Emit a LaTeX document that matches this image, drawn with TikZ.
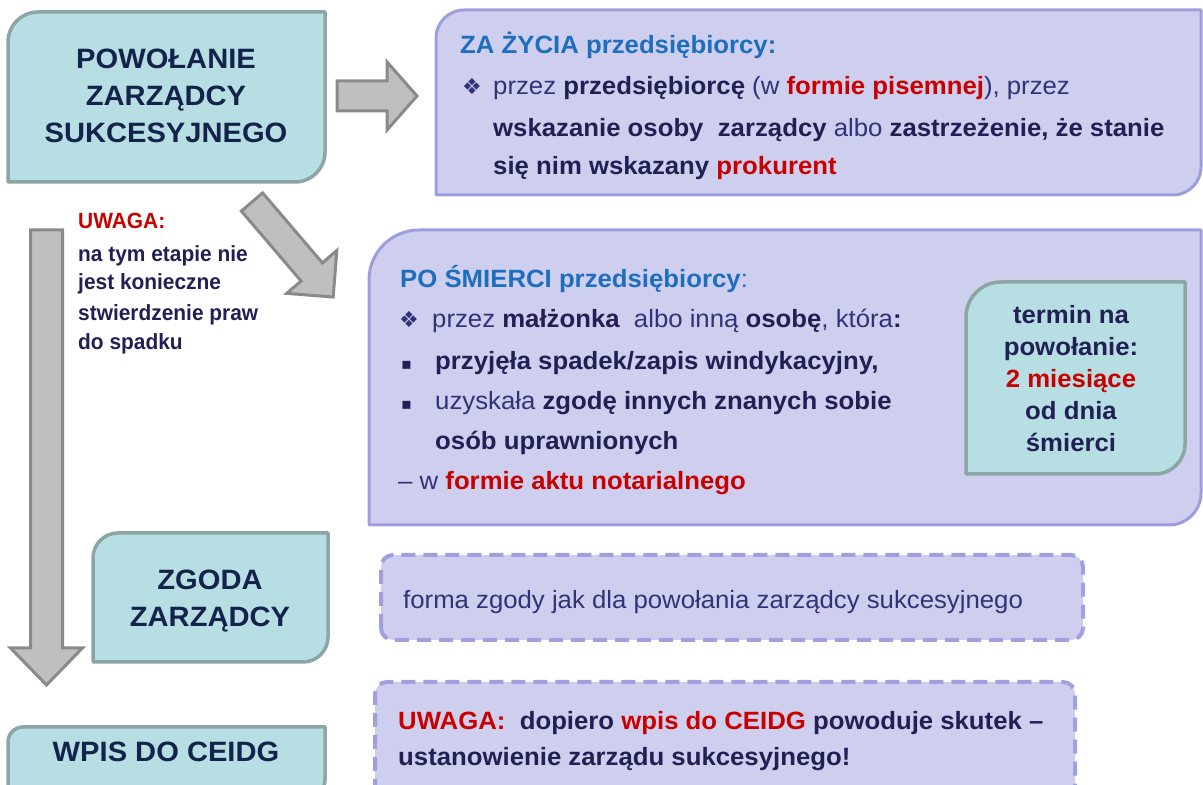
\documentclass[tikz,border=0pt]{standalone}
\usepackage{fontspec}
\setmainfont{Liberation Sans}
\newfontfamily\titlefont[FakeStretch=1.04]{Liberation Sans}
\newfontfamily\bodyfont[FakeStretch=1.03]{Liberation Sans}
\newfontfamily\notefont[FakeStretch=0.95]{Liberation Sans}
\newfontfamily\symfont{DejaVu Sans}
\definecolor{tealfill}{RGB}{183,222,226}
\definecolor{tealline}{RGB}{140,165,165}
\definecolor{lavfill}{RGB}{206,206,238}
\definecolor{lavline}{RGB}{158,158,220}
\definecolor{dashline}{RGB}{160,160,222}
\definecolor{arrowfill}{RGB}{191,191,191}
\definecolor{arrowline}{RGB}{138,138,138}
\definecolor{titlecol}{RGB}{20,35,75}
\definecolor{bodycol}{RGB}{50,50,120}
\definecolor{boldcol}{RGB}{32,32,85}
\definecolor{bluecol}{RGB}{30,110,190}
\definecolor{redcol}{RGB}{200,0,0}
\newcommand\hb[1]{{\bfseries\color{boldcol}#1}}
\newcommand\hr[1]{{\bfseries\color{redcol}#1}}
\newcommand\tlbrbox[7]{\draw[#1] (#2,#3) -- (#2,#5-#6) arc[start angle=180,end angle=90,radius=#6] -- (#4,#5) -- (#4,#3+#7) arc[start angle=0,end angle=-90,radius=#7] -- cycle;}
\begin{document}
\begin{tikzpicture}[x=1pt,y=1pt,
  tealbox/.style={fill=tealfill, draw=tealline, line width=3.5pt, line join=round},
  lavbox/.style={fill=lavfill, draw=lavline, line width=3pt, line join=round},
  dashbox/.style={fill=lavfill, draw=dashline, line width=4pt, dash pattern=on 14pt off 8pt, rounded corners=12pt},
  blockarrow/.style={fill=arrowfill, draw=arrowline, line width=3pt, line join=miter},
  title/.style={font={\titlefont\bfseries\fontsize{28}{37}\selectfont}, text=titlecol, align=center},
  body/.style={font={\bodyfont\fontsize{25}{40}\selectfont}, text=bodycol, anchor=base west, inner sep=0pt},
  sym/.style={font={\symfont\fontsize{22}{24}\selectfont}, text=bodycol, anchor=base west, inner sep=0pt},
  sq/.style={font={\symfont\fontsize{16}{20}\selectfont}, text=boldcol, anchor=base west, inner sep=0pt},
  termtext/.style={font={\bodyfont\bfseries\fontsize{25}{32}\selectfont}, text=boldcol, align=center},
  note/.style={font={\notefont\bfseries\fontsize{22}{30}\selectfont}, text=boldcol, anchor=base west, inner sep=0pt}]
\useasboundingbox (0,0) rectangle (1203,785);

% boxes
\tlbrbox{tealbox}{8}{603}{325}{773}{30}{30}
\tlbrbox{lavbox}{436}{590}{1201}{775}{28}{28}
\tlbrbox{lavbox}{369}{260}{1201}{555}{50}{32}
\tlbrbox{tealbox}{966}{311}{1185}{503}{35}{30}
\tlbrbox{tealbox}{93}{123}{328}{252}{25}{25}
\tlbrbox{tealbox}{8}{-10}{325}{58}{15}{15}
\draw[dashbox] (381,145) rectangle (1083,230);
\draw[dashbox] (375,-20) rectangle (1075,103);

% block arrows
\draw[blockarrow] (337,674) -- (387,674) -- (387,655) -- (417,689) -- (387,723) -- (387,704) -- (337,704) -- cycle;
\draw[blockarrow] (30.5,555) -- (62.5,555) -- (62.5,137) -- (82.5,137) -- (46.5,100) -- (10.5,137) -- (30.5,137) -- cycle;
\begin{scope}[shift={(252,583)}, rotate=-49.5]
\draw[blockarrow] (0,-14) -- (92,-14) -- (92,-33) -- (125,0) -- (92,33) -- (92,14) -- (0,14) -- cycle;
\end{scope}

% titles
\node[title] (pow) at (166,689) {POWOŁANIE\\ZARZĄDCY\\SUKCESYJNEGO};
\node[title] (zgoda) at (210,184) {ZGODA\\ZARZĄDCY};
\node[title] (wpis) at (166,33) {WPIS DO CEIDG};

% ZA ZYCIA
\node[body, text=bluecol] (zat) at (460,731) {\bfseries ZA ŻYCIA przedsiębiorcy:};
\node[sym] (zab) at (462,690) {❖};
\node[body] (za1) at (493,690) {przez \hb{przedsiębiorcę} (w \hr{formie pisemnej}), przez};
\node[body] (za2) at (493,648) {\hb{wskazanie osoby\ \ zarządcy} albo \hb{zastrzeżenie, że stanie}};
\node[body] (za3) at (493,610) {\hb{się nim wskazany} \hr{prokurent}};

% PO SMIERCI
\node[body, text=bluecol] (pot) at (400,497) {\bfseries PO ŚMIERCI przedsiębiorcy\mdseries:};
\node[sym] (pob) at (399,457) {❖};
\node[body] (po1) at (432,457) {przez \hb{małżonka}\ \ albo inną \hb{osobę}, która\hb{:}};
\node[sq] (pos1) at (401,415) {▪};
\node[body] (po2) at (435,415) {\hb{przyjęła spadek/zapis windykacyjny,}};
\node[sq] (pos2) at (401,375) {▪};
\node[body] (po3) at (435,375) {uzyskała \hb{zgodę innych znanych sobie}};
\node[body] (po4) at (435,335) {\hb{osób uprawnionych}};
\node[body] (po5) at (398,295) {– w \hr{formie aktu notarialnego}};

\node[termtext] (term) at (1071,406) {termin na\\powołanie:\\\textcolor{redcol}{2 miesiące}\\od dnia\\śmierci};

% left note
\node[note, text=redcol] (uw) at (78,556) {UWAGA:};
\node[note] (uw1) at (78,523) {na tym etapie nie};
\node[note] (uw2) at (78,495) {jest konieczne};
\node[note] (uw3) at (78,464) {stwierdzenie praw};
\node[note] (uw4) at (78,435) {do spadku};

% dashed boxes text
\node[body] (forma) at (403,176) {forma zgody jak dla powołania zarządcy sukcesyjnego};
\node[body] (uw2a) at (398,55) {\hr{UWAGA:}\ \ \hb{dopiero} \hr{wpis do CEIDG} \hb{powoduje skutek –}};
\node[body] (uw2b) at (398,19) {\hb{ustanowienie zarządu sukcesyjnego!}};
\end{tikzpicture}
\end{document}
